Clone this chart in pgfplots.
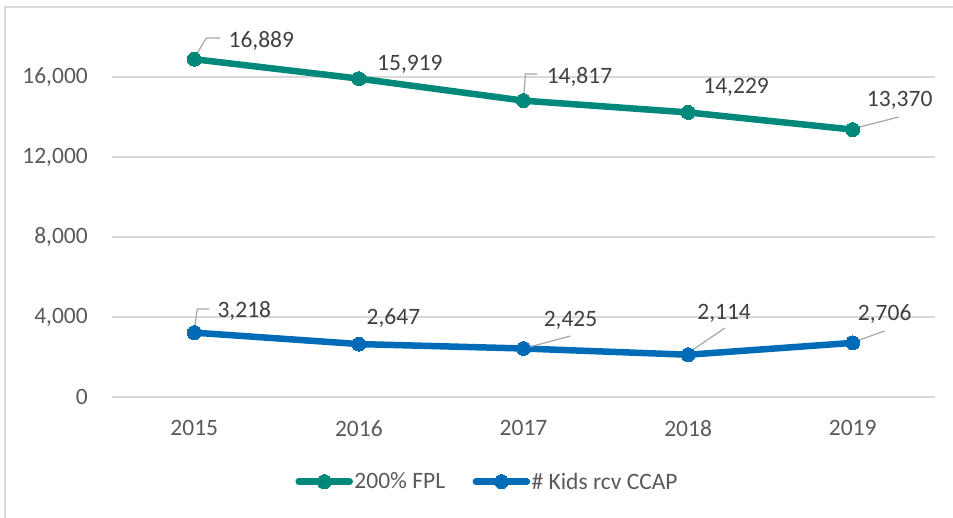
\documentclass[border=0pt]{standalone}
\usepackage{fontspec}
\setmainfont{Carlito}
\usepackage{pgfplots}
\usepackage{pgfplotstable}
\pgfplotsset{compat=1.18}
\definecolor{teal1}{RGB}{0,137,123}
\definecolor{blue1}{RGB}{0,107,182}
\definecolor{gridgray}{RGB}{217,217,217}
\definecolor{tickgray}{RGB}{89,89,89}
\definecolor{labgray}{RGB}{64,64,64}
\definecolor{leadgray}{RGB}{166,166,166}
\newcommand\chartfont{\fontsize{23.5pt}{28pt}\selectfont}

\pgfplotstableread{
x y dx dy lab
0 16889 67 19.5 16,889
1 15919 51 16 15,919
2 14817 56 25 14,817
3 14229 48 26 14,229
4 13370 47 30 13,370
}\fpl
\pgfplotstableread{
x y dx dy lab
0 3218 50 23 3,218
1 2647 34.5 27 2,647
2 2425 47 29.5 2,425
3 2114 36 43 2,114
4 2706 32 30 2,706
}\kids

\pgfplotsset{
  datalabels/.style={
    nodes near coords,
    point meta=explicit symbolic,
    visualization depends on={\thisrow{dx}\as\dx},
    visualization depends on={\thisrow{dy}\as\dy},
    every node near coord/.append style={font=\chartfont, text=labgray, anchor=base, inner sep=0pt,
       xshift=\dx pt, yshift=\dy pt-7.4pt},
  },
  leader/.style={leadgray, line width=1.2pt, no marks, forget plot},
}

\begin{document}
\begin{tikzpicture}
\begin{axis}[
  scale only axis,
  width=823pt, height=390pt,
  xmin=-0.5, xmax=4.5, ymin=0, ymax=19500,
  xtick={0,1,2,3,4},
  xticklabels={2015,2016,2017,2018,2019},
  ytick={0,4000,8000,12000,16000},
  scaled y ticks=false,
  /pgf/number format/assume math mode=true,
  /pgf/number format/1000 sep={,},
  ymajorgrids,
  grid style={color=gridgray, line width=1.6pt},
  axis line style={draw=none},
  tick style={draw=none},
  major tick length=0pt,
  ticklabel style={font=\chartfont, text=tickgray, inner sep=0pt},
  yticklabel style={anchor=east, xshift=-24pt},
  xticklabel style={anchor=north, yshift=-23pt},
  clip=false,
  legend style={at={(0.456,-0.217)}, anchor=center, draw=none, fill=none,
    legend columns=2, font=\chartfont, text=tickgray,
    /tikz/every even column/.append style={column sep=26pt},
    nodes={inner sep=1.5pt}},
  legend image code/.code={\draw[mark repeat=2,mark phase=2,line cap=round,#1] plot coordinates {(0pt,0pt) (25.5pt,0pt) (51pt,0pt)};},
]
\addplot[teal1, line width=6.5pt, line join=round, mark=*, mark size=7pt, mark options={solid, fill=teal1, draw=teal1, line width=0pt}, datalabels]
  table[x=x, y=y, meta=lab] {\fpl};
\addlegendentry{200\% FPL}
\addplot[blue1, line width=6.5pt, line join=round, mark=*, mark size=7pt, mark options={solid, fill=blue1, draw=blue1, line width=0pt}, datalabels]
  table[x=x, y=y, meta=lab] {\kids};
\addlegendentry{\# Kids rcv CCAP}
% leader lines
\addplot[leader] coordinates {(0,16950) (0.073,17950) (0.158,17950)};
\addplot[leader] coordinates {(2,14900) (2.012,16150) (2.085,16150)};
\addplot[leader] coordinates {(4.018,13450) (4.279,14000)};
\addplot[leader] coordinates {(0,3350) (0.018,4400) (0.091,4400)};
\addplot[leader] coordinates {(2.012,2450) (2.285,3050)};
\addplot[leader] coordinates {(3,2200) (3.224,3450)};
\addplot[leader] coordinates {(4.006,2750) (4.194,3300)};
\end{axis}
\draw[gridgray, line width=1.6pt] (-107pt,-121pt) -- (-107pt,389.7pt) -- (842pt,389.7pt);
\pgfresetboundingbox
\path[use as bounding box] (-112pt,-120pt) rectangle (841pt,397pt);
\end{tikzpicture}
\end{document}
